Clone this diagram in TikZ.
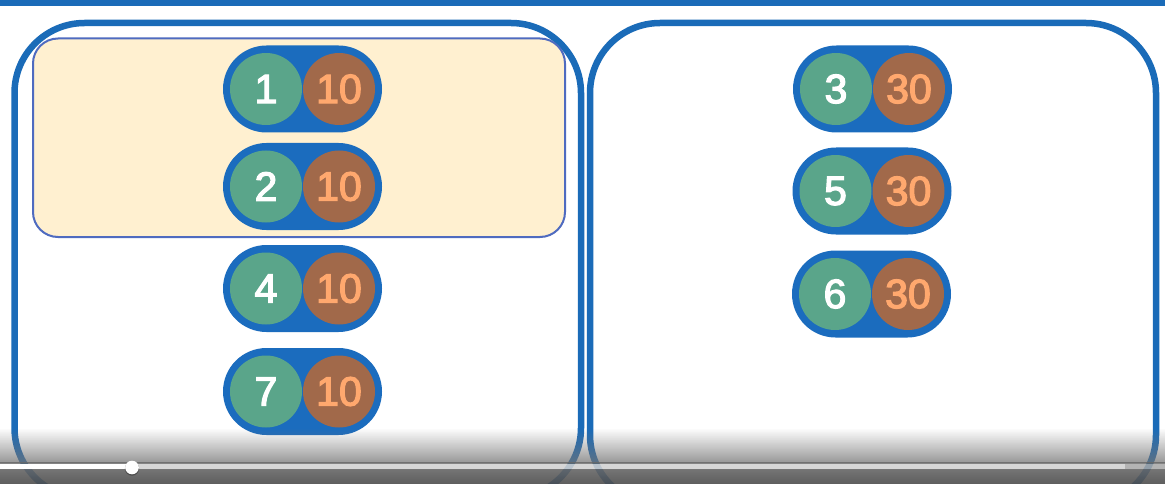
\documentclass[tikz,border=0pt]{standalone}
\usepackage{fontspec}
\setmainfont{Liberation Sans}
\newfontfamily\digitfont[FakeBold=3]{Liberation Sans}
\usetikzlibrary{fadings}
\definecolor{barblue}{HTML}{1A6BB8}
\definecolor{pillblue}{HTML}{1B6CBE}
\definecolor{idgreen}{HTML}{5AA58A}
\definecolor{valbrown}{HTML}{A1694A}
\definecolor{valtext}{HTML}{FFA86E}
\definecolor{hlfill}{HTML}{FFF0D0}
\definecolor{hlline}{HTML}{4F6BC0}
\tikzfading[name=fadeup, top color=transparent!100, bottom color=transparent!0]
\newcommand\pillnode[5]{%
  \node[pill] (#1) at (#2,#3) {};
  \node[idcirc] (#1id) at ([xshift=-36.5pt]#1.center) {#4};
  \node[valcirc] (#1val) at ([xshift=36.5pt]#1.center) {#5};
}
\begin{document}
\begin{tikzpicture}[x=1pt,y=-1pt,
  panel/.style={draw=barblue, line width=6.5pt, rounded corners=70pt},
  pill/.style={rectangle, fill=pillblue, rounded corners=43.5pt, minimum width=159pt, minimum height=87pt, inner sep=0pt},
  digits/.style={font=\digitfont\fontsize{41}{41}\selectfont},
  idcirc/.style={circle, fill=idgreen, minimum size=72pt, inner sep=0pt, text=white, digits},
  valcirc/.style={circle, fill=valbrown, minimum size=72pt, inner sep=0pt, text=valtext, digits},
]
\useasboundingbox (0,0) rectangle (1165,484);
\fill[white] (0,0) rectangle (1165,484);
% top bar
\fill[barblue] (0,0) rectangle (1165,6);
% panels
\draw[panel] (14.5,23) rectangle (581,498);
\draw[panel] (590,23) rectangle (1156,505);
% highlight
\draw[hlline, fill=hlfill, line width=2pt, rounded corners=25pt] (33,38.5) rectangle (565,237);
% pills
\pillnode{p1}{302.5}{89}{1}{10}
\pillnode{p2}{302.5}{186.5}{2}{10}
\pillnode{p4}{302.5}{288.5}{4}{10}
\pillnode{p7}{302.5}{391.5}{7}{10}
\pillnode{p3}{872.5}{89}{3}{30}
\pillnode{p5}{872}{191}{5}{30}
\pillnode{p6}{871.5}{294}{6}{30}
% video overlay
\fill[black!55, path fading=fadeup, fill opacity=0.75] (0,428) rectangle (1165,463);
\fill[black!60, fill opacity=0.8] (0,461.5) rectangle (1165,463.5);
\fill[black!18, fill opacity=0.88] (132,463.5) rectangle (1125,469);
\fill[black!35, fill opacity=0.85] (1125,463.5) rectangle (1165,469);
\fill[white] (0,463.5) rectangle (132,469);
\shade[top color=black!60, bottom color=black!70, fill opacity=0.9] (0,469) rectangle (1165,484);
\fill[black, opacity=0.3] (132,468.5) circle (7.2);
\fill[white] (132,467.5) circle (6.8);
\end{tikzpicture}
\end{document}
